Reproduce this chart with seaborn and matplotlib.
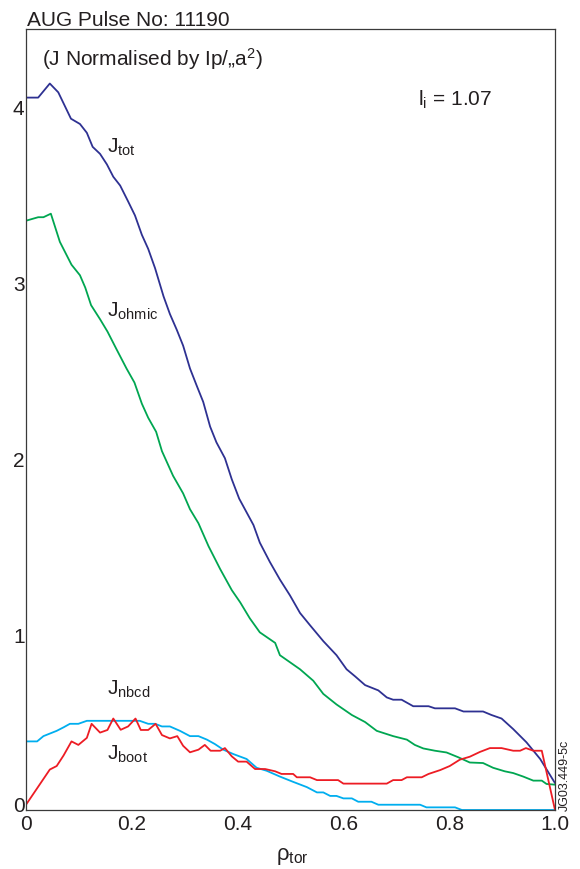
import matplotlib
matplotlib.use("Agg")
import matplotlib.pyplot as plt
import matplotlib.transforms as mtransforms
import seaborn as sns
import pandas as pd

# ---- data ----
rho_tot = [0, 0.023, 0.045, 0.061, 0.085, 0.102, 0.115, 0.126, 0.14, 0.153, 0.165, 0.178, 0.193, 0.206,
           0.219, 0.231, 0.244, 0.26, 0.272, 0.285, 0.297, 0.31, 0.323, 0.335, 0.348, 0.36, 0.376, 0.389,
           0.403, 0.43, 0.442, 0.461, 0.48, 0.499, 0.518, 0.537, 0.562, 0.587, 0.606, 0.622, 0.641, 0.666,
           0.682, 0.694, 0.71, 0.732, 0.761, 0.773, 0.811, 0.827, 0.864, 0.88, 0.899, 0.921, 0.946, 0.972, 1.0]
j_tot = [4.05, 4.05, 4.13, 4.08, 3.93, 3.90, 3.85, 3.77, 3.73, 3.67, 3.60, 3.55, 3.46, 3.38,
         3.27, 3.19, 3.08, 2.92, 2.82, 2.73, 2.64, 2.51, 2.41, 2.32, 2.18, 2.09, 2.00, 1.88,
         1.77, 1.62, 1.52, 1.41, 1.31, 1.22, 1.12, 1.05, 0.96, 0.88, 0.80, 0.76, 0.71, 0.68,
         0.64, 0.627, 0.627, 0.59, 0.59, 0.578, 0.578, 0.56, 0.56, 0.54, 0.52, 0.46, 0.385, 0.29, 0.153]

rho_ohm = [0, 0.023, 0.033, 0.047, 0.064, 0.086, 0.102, 0.112, 0.123, 0.14, 0.154, 0.171, 0.19, 0.205,
           0.219, 0.231, 0.246, 0.257, 0.278, 0.297, 0.31, 0.326, 0.345, 0.367, 0.389, 0.405, 0.423, 0.442,
           0.471, 0.48, 0.499, 0.518, 0.543, 0.562, 0.587, 0.616, 0.641, 0.663, 0.694, 0.72, 0.735, 0.751,
           0.773, 0.795, 0.817, 0.839, 0.864, 0.883, 0.905, 0.921, 0.94, 0.959, 0.975, 0.984, 1.0]
j_ohm = [3.35, 3.37, 3.37, 3.39, 3.23, 3.10, 3.04, 2.97, 2.87, 2.79, 2.72, 2.62, 2.51, 2.43,
         2.31, 2.23, 2.15, 2.04, 1.90, 1.80, 1.71, 1.63, 1.50, 1.37, 1.25, 1.18, 1.09, 1.01,
         0.95, 0.88, 0.84, 0.80, 0.735, 0.66, 0.60, 0.54, 0.50, 0.45, 0.42, 0.40, 0.37, 0.35,
         0.337, 0.327, 0.30, 0.27, 0.267, 0.24, 0.22, 0.21, 0.19, 0.167, 0.167, 0.148, 0.144]

rho_nbcd = [0, 0.021, 0.033, 0.058, 0.071, 0.083, 0.099, 0.115, 0.215, 0.231, 0.244, 0.257, 0.272, 0.291,
            0.31, 0.326, 0.342, 0.357, 0.373, 0.392, 0.417, 0.436, 0.455, 0.48, 0.505, 0.531, 0.55, 0.562,
            0.575, 0.587, 0.60, 0.616, 0.628, 0.653, 0.666, 0.745, 0.757, 0.811, 0.824, 1.0]
j_nbcd = [0.39, 0.39, 0.42, 0.45, 0.47, 0.49, 0.49, 0.507, 0.507, 0.49, 0.49, 0.475, 0.475, 0.45,
          0.42, 0.42, 0.40, 0.375, 0.343, 0.318, 0.29, 0.24, 0.223, 0.19, 0.16, 0.13, 0.10, 0.10,
          0.08, 0.08, 0.066, 0.066, 0.047, 0.047, 0.03, 0.03, 0.015, 0.015, 0.0, 0.0]

rho_boot = [0, 0.045, 0.058, 0.071, 0.086, 0.099, 0.115, 0.124, 0.14, 0.154, 0.165, 0.179, 0.193, 0.207,
            0.217, 0.231, 0.245, 0.257, 0.272, 0.286, 0.297, 0.31, 0.326, 0.338, 0.349, 0.367, 0.376, 0.389,
            0.401, 0.417, 0.433, 0.452, 0.471, 0.483, 0.505, 0.512, 0.537, 0.55, 0.59, 0.60, 0.682, 0.694,
            0.71, 0.72, 0.748, 0.761, 0.783, 0.801, 0.82, 0.839, 0.858, 0.877, 0.899, 0.921, 0.934, 0.945,
            0.959, 0.975, 1.0]
j_boot = [0.03, 0.23, 0.25, 0.31, 0.39, 0.37, 0.41, 0.49, 0.44, 0.455, 0.52, 0.456, 0.475, 0.52,
          0.455, 0.455, 0.49, 0.426, 0.407, 0.42, 0.365, 0.328, 0.343, 0.37, 0.337, 0.337, 0.352, 0.305,
          0.275, 0.275, 0.233, 0.233, 0.22, 0.205, 0.205, 0.186, 0.186, 0.17, 0.17, 0.15, 0.15, 0.17,
          0.17, 0.186, 0.186, 0.205, 0.227, 0.25, 0.286, 0.303, 0.33, 0.352, 0.352, 0.337, 0.337, 0.352,
          0.337, 0.337, 0.0]

x_ticks = [0, 0.2, 0.4, 0.6, 0.8, 1.0]
x_ticklabels = ["0", "0.2", "0.4", "0.6", "0.8", "1.0"]
y_ticks = [0, 1, 2, 3, 4]
y_ticklabels = ["0", "1", "2", "3", "4"]

# ---- style ----
sns.set_theme(style="white")
TXT = "#231f20"
plt.rcParams["font.family"] = ["Liberation Sans", "DejaVu Sans"]
plt.rcParams["mathtext.fontset"] = "custom"
plt.rcParams["mathtext.rm"] = "Liberation Sans"
plt.rcParams["mathtext.it"] = "Liberation Sans:italic"
plt.rcParams["mathtext.bf"] = "Liberation Sans:bold"
plt.rcParams["text.color"] = TXT

fig = plt.figure(figsize=(5.8, 8.7), dpi=100)
ax = fig.add_axes([26 / 580, 1 - 811 / 870, 529 / 580, 781 / 870])

series = [
    (rho_tot, j_tot, "#2e3192"),
    (rho_ohm, j_ohm, "#00a651"),
    (rho_nbcd, j_nbcd, "#00aeef"),
    (rho_boot, j_boot, "#ed1c24"),
]
for r, j, c in series:
    df = pd.DataFrame({"rho": r, "J": j})
    sns.lineplot(data=df, x="rho", y="J", ax=ax, color=c, linewidth=1.3,
                 estimator=None, sort=False, legend=False)

ax.set_xlim(0, 1.0)
ax.set_ylim(0, 4.44)
ax.set_xticks(x_ticks)
ax.set_xticklabels(x_ticklabels)
ax.set_yticks(y_ticks)
ax.set_yticklabels(y_ticklabels)
ax.tick_params(axis="both", direction="in", length=8.5, width=0.9, colors="#3a3a3a",
               labelcolor=TXT, labelsize=15)
ax.tick_params(axis="x", pad=3)
ax.tick_params(axis="y", pad=1)
for s in ax.spines.values():
    s.set_visible(True)
    s.set_color("#3a3a3a")
    s.set_linewidth(0.9)

# raise the y "0" label slightly so it clears the x "0" label (as in the reference)
ylab0 = ax.get_yticklabels()[0]
ylab0.set_transform(ylab0.get_transform() +
                    mtransforms.ScaledTranslation(0, 6 / 100, fig.dpi_scale_trans))

ax.set_ylabel("")
ax.set_xlabel(r"$\mathrm{ρ}_{\mathrm{tor}}$", fontsize=16, color=TXT)
ax.xaxis.set_label_coords((292 - 26) / 529, (811 - 857) / 781)
ax.xaxis.label.set_va("center")

# annotations
fs = 15
ax.text(0.153, 3.74, r"$\mathrm{J}_{\mathrm{tot}}$", fontsize=fs, va="baseline", ha="left")
ax.text(0.153, 2.81, r"$\mathrm{J}_{\mathrm{ohmic}}$", fontsize=fs, va="baseline", ha="left")
ax.text(0.153, 0.66, r"$\mathrm{J}_{\mathrm{nbcd}}$", fontsize=fs, va="baseline", ha="left")
ax.text(0.153, 0.29, r"$\mathrm{J}_{\mathrm{boot}}$", fontsize=fs, va="baseline", ha="left")
ax.text(0.741, 4.01, r"$\mathrm{l}_{\mathrm{i}}$ = 1.07", fontsize=fs, va="baseline", ha="left")
ax.text((42 - 26) / 529, (811 - 66) / 781, "(J Normalised by Ip/\u201ea$^{2}$)", fontsize=15,
        va="baseline", ha="left", transform=ax.transAxes)
ax.text(1.0076, 0.0, "JG03.449-5c", fontsize=9, rotation=90, ha="left", va="bottom",
        transform=ax.transAxes)

fig.text(27 / 580, 1 - 26 / 870, "AUG Pulse No: 11190", fontsize=15, va="baseline", ha="left",
         color=TXT)

fig.savefig("out.png", dpi=100)
